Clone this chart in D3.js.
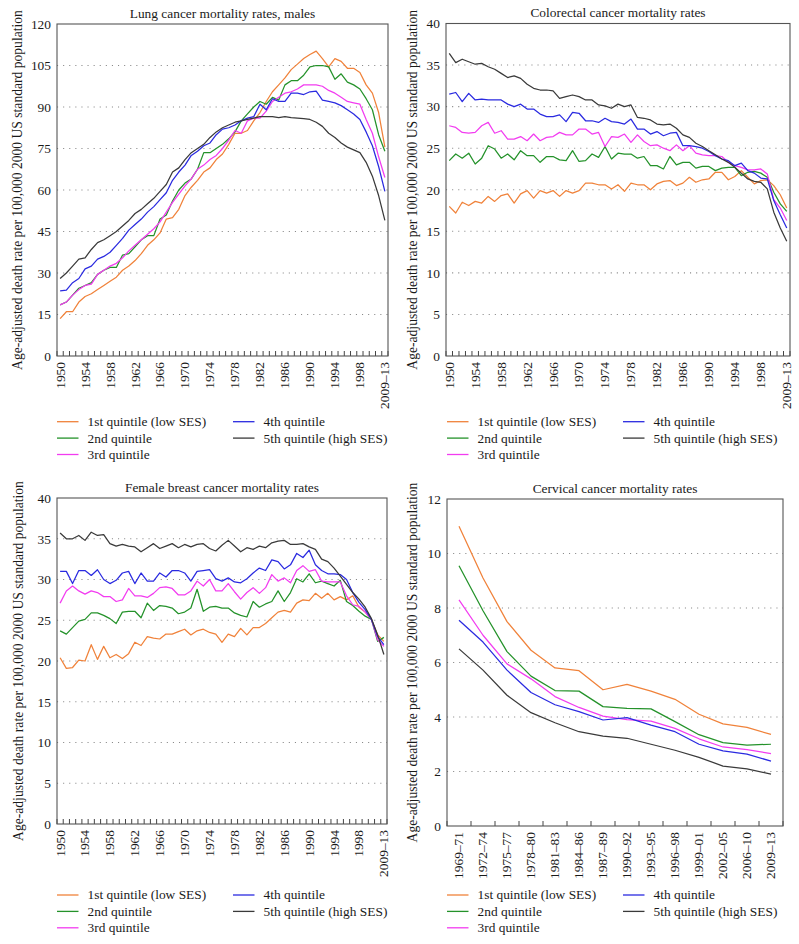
<!DOCTYPE html>
<html><head><meta charset="utf-8">
<script src="https://cdn.jsdelivr.net/npm/d3@7"></script>
<style>
body{margin:0;background:#fff}
svg text{font-family:"Liberation Serif","Times New Roman",serif;fill:#1a1a1a}
</style></head><body><svg id="c" width="799" height="944"></svg>
<script>
const yearCats = ["1950","1951","1952","1953","1954","1955","1956","1957","1958","1959",
"1960","1961","1962","1963","1964","1965","1966","1967","1968","1969",
"1970","1971","1972","1973","1974","1975","1976","1977","1978","1979",
"1980","1981","1982","1983","1984","1985","1986","1987","1988","1989",
"1990","1991","1992","1993","1994","1995","1996","1997","1998",
"1999–01","2002–05","2006–10","2009–13"];
const yearTickLabels = ["1950","1954","1958","1962","1966","1970","1974","1978","1982","1986","1990","1994","1998","2009–13"];
const cervCats = ["1969–71","1972–74","1975–77","1978–80","1981–83","1984–86","1987–89","1990–92","1993–95","1996–98","1999–01","2002–05","2006–10","2009–13"];

const seriesNames = ["1st quintile (low SES)","2nd quintile","3rd quintile","4th quintile","5th quintile (high SES)"];
const seriesColors = ["#f0823a","#24922a","#f23cf0","#2a2ae0","#3a3a3a"];

const lungQ1 = [13.5,16,16,19.5,21.5,22.5,24,25.5,27,28.5,
31,32.5,34.5,37,40,42,44.5,49.5,50,53,
58,61,63.5,66.5,68,71,73,76.5,80.5,80.5,
81.5,85,88,92,95.5,98,100.5,103.5,105.5,107.5,
109,110.2,107.5,104.5,107.5,106.5,104,104,102.5,98,
95,88,75.5];
const lungQ2 = [18.5,19.5,22,24.5,25.5,26.5,29.5,31,32,32,
36.5,37,39.5,42,43.5,43.5,49.5,51,56,60,
62.5,64,67.5,73.5,73.5,75,76.5,78.5,81,85,
87.5,90,92,91,93.5,92.5,98,99.5,99.5,101.5,
104.5,105,105,104.5,100,102,99,98,96.5,93,
89,80,74];
const lungQ3 = [18.5,19.5,22,24,25.5,26,29.5,31,32.5,33.5,
35.5,38,40,42,44,46,48.5,52,55.5,58.5,
61.5,64,67.5,69,71,72.5,75,78,81.5,80.5,
85,86,86,88.5,92,93.5,95,95.5,96.5,98,
98,98,97.5,96,95,93.5,92,91.5,91,85.5,
80.5,72,64.5];
const lungQ4 = [23.5,23.8,26.5,28,31.5,32.5,35,36,37.5,40,
42.5,45.5,47.5,49.5,52,54,56.5,59,63.5,66.5,
69,72.5,74,76,77,80,82,82.5,83.5,85,
86,86.5,91,89,93,92,92,95,95,94.5,
95.5,95.7,92.5,92,91.5,90.5,89,87.5,85.5,81,
76,68.5,59.5];
const lungQ5 = [28,30,32.5,35,35.5,38.5,41,42,43.5,45,
47,49,51.5,53,55,57,59.5,62,66.5,68,
71,73.5,75,76.5,79,81,82.5,83.5,84.5,85,
85.5,86,86.5,86.5,86.5,86.2,86.5,86.2,86,85.8,
85.5,84.5,83,80.5,79,77,75.5,74.5,73.5,70,
65,58,49];

const colQ1 = [18,17.2,18.5,18.1,18.6,18.4,19.2,18.6,19.3,19.5,
18.4,19.5,19.9,19,19.9,19.6,19.9,19.2,19.9,19.6,
19.9,20.8,20.8,20.6,20.6,20.1,20.6,19.8,20.8,20.6,
20.6,20,20.7,21,21.1,20.5,20.8,21.5,20.9,21.2,
21.3,22.1,22.1,21.2,21.6,22.3,21.5,20.7,21.1,21.2,
20.5,19.4,17.8];
const colQ2 = [23.5,24.3,23.8,24.4,23.1,23.8,25.3,24.9,23.8,24.3,
23.6,24.7,24.1,24.1,23.3,24,24,23.6,23.5,24.7,
23.4,23.5,24.3,23.9,25.2,23.7,24.4,24.3,24.3,23.8,
24,22.9,22.9,22.5,24,23,23.3,23.3,22.6,22.8,
22.8,22.3,22.6,22.7,22.7,21.7,22.1,22.2,22,21.5,
19.7,18.3,17.4];
const colQ3 = [27.7,27.5,26.9,26.8,26.9,27.7,28.1,26.8,27.1,26.1,
26.1,26.4,25.9,26.7,25.9,26.3,26.4,26.9,26.6,26.6,
27.3,27.3,26.7,26.9,25.2,26.4,26.3,26.7,25.7,26.6,
25.8,25.3,25.4,25,24.7,25.4,24.7,25.3,24.4,24.2,
24.1,24.1,24,23.3,22.9,22.7,22.4,22.4,22.5,21.9,
18.8,17.8,16.3];
const colQ4 = [31.5,31.7,30.6,31.6,30.8,30.9,30.8,30.8,30.8,30.3,
30,30.3,29.7,29.7,29.1,28.8,28.8,29,28.2,29.3,
29.2,28.3,28.3,28.1,28.6,28.2,28.1,27.9,28.5,27.3,
27.3,26.7,27,26.5,26.8,26.9,25.3,25.3,25.2,25,
24.6,24.1,23.7,23.5,22.9,23.2,22.3,22,21.4,21.3,
18.7,17,15.4];
const colQ5 = [36.4,35.3,35.7,35.4,35.1,35.2,34.8,34.5,34,33.5,
33.7,33.4,32.7,32.2,32,32,31.9,31,31.2,31.4,
31.2,30.8,30.8,30.2,30.1,29.8,30.3,30,30.2,28.7,
28.6,28.4,27.9,27.8,27.9,27.4,26.6,26.3,25.6,25.2,
24.7,24.2,23.7,23.3,22.7,22,21.3,21,20.9,20.1,
17.3,15.4,13.8];

const brQ1 = [20.4,19.1,19.2,20.1,20,22,20.2,21.8,20.4,20.8,
20.3,20.9,22.3,21.9,23,22.8,22.7,23.3,23.3,23.6,
23.9,23.2,23.7,23.9,23.5,23.3,22.3,23.3,23,24,
23.2,24.1,24.1,24.6,25.3,26,26.2,26,27.1,27.5,
27.4,28.3,27.7,28.3,27.5,27.9,27.5,28,26.6,26,
25.1,23.2,22.4];
const brQ2 = [23.7,23.3,24.1,24.9,25.1,25.9,25.9,25.6,25.2,24.6,
26,26.1,26.1,25.3,27.1,26.2,26.8,26.7,26.5,25.8,
26,26.5,28.8,26.1,26.6,26.7,26.5,26.5,25.9,25.6,
25.4,27.3,26.6,27,27.3,28.6,27.3,28.4,30.1,29.7,
30.7,29.6,29.8,29.5,29.2,29.9,27.3,26.8,26.1,25.5,
25.1,22.4,22.9];
const brQ3 = [27.1,28.6,29.2,28.6,28.2,28.6,28.4,27.9,27.9,27.3,
27.5,28.9,28,28,27.8,28.3,29,29.1,28.9,28.1,
28.1,28.6,29.8,29.2,30,28.6,28.6,29.5,28.5,27.6,
28.4,29,28.3,29,30.6,29.8,30.2,29.6,31.1,31.7,
31,31.2,29.8,29.7,29.7,29.7,28,26.9,26.7,26,
25.1,22.6,21.8];
const brQ4 = [31,31,29.5,31.1,31.1,30.5,31.2,30,29.5,29.9,
30.8,31,29.5,30.8,29.8,29.8,30.8,30.3,31.1,31.1,
30.8,29.8,31,31.1,31.2,30.1,29.8,30.2,29.7,29.6,
30.1,30.8,31.4,31.1,32.4,32.2,31.3,31.8,33.2,32.7,
33.6,31.8,31.1,30.7,30.7,30.6,30,28.4,27.2,26.3,
25.1,23,22];
const brQ5 = [35.7,35,35,35.4,34.8,35.8,35.4,35.5,34.4,34.1,
34.3,34.1,34,33.4,33.9,34.4,33.8,34.1,34.4,33.9,
34.3,34,34.3,34.4,33.8,33.5,34.2,34.8,34.1,33.4,
33.9,33.7,34.1,33.9,34.5,34.7,34.8,34.3,34.3,34.4,
34,33.7,32.5,32.2,31.4,30.4,29.4,28.4,27.6,26.6,
25.2,23.2,20.8];

const cervQ1 = [11,9.1,7.5,6.45,5.8,5.7,5.0,5.2,4.95,4.65,4.1,3.75,3.62,3.36];
const cervQ2 = [9.55,7.9,6.4,5.5,4.97,4.95,4.38,4.32,4.3,3.83,3.35,3.06,2.97,3.0];
const cervQ3 = [8.3,7.0,5.95,5.4,4.75,4.35,4.03,3.9,3.85,3.58,3.2,2.9,2.8,2.66];
const cervQ4 = [7.55,6.75,5.72,4.9,4.45,4.2,3.89,3.98,3.7,3.46,3.0,2.76,2.64,2.38];
const cervQ5 = [6.5,5.72,4.8,4.16,3.79,3.46,3.3,3.22,3.0,2.78,2.52,2.2,2.1,1.9];

const lungTicks = [0,15,30,45,60,75,90,105,120];
const rate40Ticks = [0,5,10,15,20,25,30,35,40];
const cervTicks = [0,2,4,6,8,10,12];

const yTitle = "Age-adjusted death rate per 100,000 2000 US standard population";

const panels = [
  {title:"Lung cancer mortality rates, males", cats:yearCats, labels:yearTickLabels,
   series:[lungQ1,lungQ2,lungQ3,lungQ4,lungQ5], yMax:120, yTicks:lungTicks,
   box:[57,24,388,356], yTitleX:17.5, legendY:421.7, legendX:[57,233]},
  {title:"Colorectal cancer mortality rates", cats:yearCats, labels:yearTickLabels,
   series:[colQ1,colQ2,colQ3,colQ4,colQ5], yMax:40, yTicks:rate40Ticks,
   box:[446,23.5,790,356], yTitleX:412, legendY:421.7, legendX:[447,623]},
  {title:"Female breast cancer mortality rates", cats:yearCats, labels:yearTickLabels,
   series:[brQ1,brQ2,brQ3,brQ4,brQ5], yMax:40, yTicks:rate40Ticks,
   box:[57,498,387,824], yTitleX:18.5, legendY:895, legendX:[57,233]},
  {title:"Cervical cancer mortality rates", cats:cervCats, labels:cervCats,
   series:[cervQ1,cervQ2,cervQ3,cervQ4,cervQ5], yMax:12, yTicks:cervTicks,
   box:[447,499,783,826], yTitleX:412, legendY:895, legendX:[447,623]}
];

const svg = d3.select("#c");
const FONT = "Liberation Serif, Times New Roman, serif";

panels.forEach(p => {
  const [x0,y0,x1,y1] = p.box;
  const x = d3.scaleBand().domain(p.cats).range([x0,x1]);
  const y = d3.scaleLinear().domain([0,p.yMax]).range([y1,y0]);
  const g = svg.append("g");

  g.append("g").selectAll("line").data(p.yTicks.filter(t => t > 0 && t < p.yMax)).join("line")
    .attr("x1", x0).attr("x2", x1).attr("y1", d => y(d)).attr("y2", d => y(d))
    .attr("stroke", "#8a8a8a").attr("stroke-width", 1.1).attr("stroke-dasharray", "1.1,5");

  const bounds = p.cats.map(c => x(c)).concat([x1]);
  g.append("g").selectAll("line").data(bounds).join("line")
    .attr("x1", d => d).attr("x2", d => d).attr("y1", y1).attr("y2", y1 - 5)
    .attr("stroke", "#444").attr("stroke-width", 1);

  g.append("rect").attr("x", x0).attr("y", y0).attr("width", x1 - x0).attr("height", y1 - y0)
    .attr("fill", "none").attr("stroke", "#555").attr("stroke-width", 1.1);

  const ya = g.append("g").attr("transform", `translate(${x0},0)`)
    .call(d3.axisLeft(y).tickValues(p.yTicks).tickSize(0).tickPadding(6));
  ya.select(".domain").remove();
  ya.attr("font-family", FONT).attr("font-size", 13.4).attr("color", "#1a1a1a");

  const xa = g.append("g").attr("transform", `translate(0,${y1})`)
    .call(d3.axisBottom(x).tickValues(p.labels).tickSize(0).tickPadding(0));
  xa.select(".domain").remove();
  xa.attr("font-family", FONT).attr("font-size", 13.4).attr("color", "#1a1a1a");
  xa.selectAll("text").attr("transform", "rotate(-90)").attr("text-anchor", "end")
    .attr("x", -6).attr("y", 0).attr("dy", "0.33em");

  const line = d3.line().x((d, i) => x(p.cats[i]) + x.bandwidth() / 2).y(d => y(d));
  g.append("g").selectAll("path").data(p.series).join("path")
    .attr("d", d => line(d)).attr("fill", "none")
    .attr("stroke", (d, i) => seriesColors[i]).attr("stroke-width", 1.25)
    .attr("stroke-linejoin", "round");

  g.append("text").attr("x", (x0 + x1) / 2).attr("y", y0 - 6.5).attr("text-anchor", "middle")
    .attr("font-size", 13.4).text(p.title);

  g.append("text").attr("transform", `translate(${p.yTitleX},${(y0 + y1) / 2}) rotate(-90)`)
    .attr("text-anchor", "middle").attr("dy", "0.33em").attr("font-size", 13.6).text(yTitle);

  const items = seriesNames.map((n, i) => ({n, i, col: i < 3 ? 0 : 1, row: i < 3 ? i : i - 3}));
  const lg = g.append("g").selectAll("g").data(items).join("g")
    .attr("transform", d => `translate(${p.legendX[d.col]},${p.legendY + d.row * 16.4})`);
  lg.append("line").attr("x1", 0).attr("x2", 21.5).attr("y1", 0).attr("y2", 0)
    .attr("stroke", d => seriesColors[d.i]).attr("stroke-width", 1.3);
  lg.append("text").attr("x", 30.5).attr("dy", "0.33em").attr("font-size", 13.4).text(d => d.n);
});
</script></body></html>
